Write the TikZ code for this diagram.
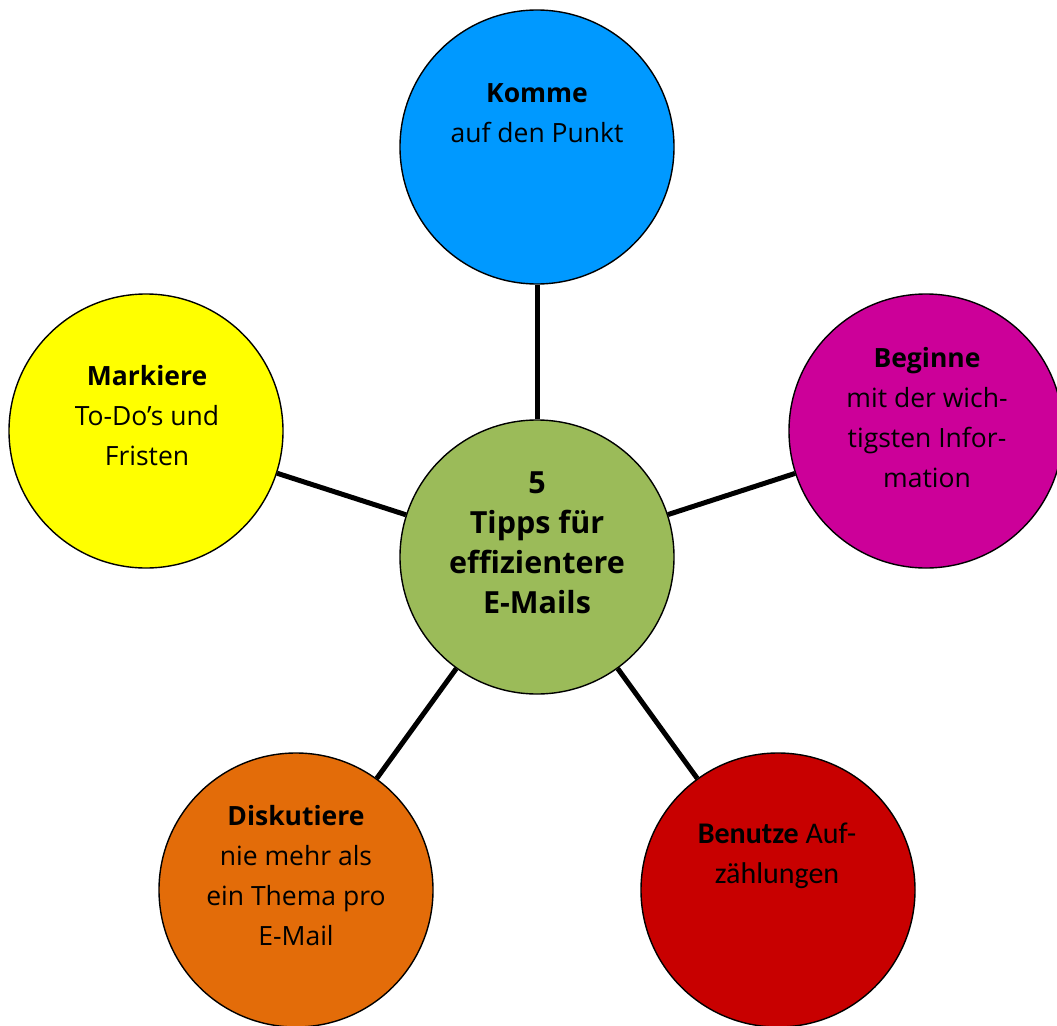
\documentclass[tikz,border=0pt]{standalone}
\usepackage{fontspec}
\setmainfont{Open Sans}
\newfontfamily\calib{Carlito}
\definecolor{cblue}{HTML}{0099FF}
\definecolor{cgreen}{HTML}{9BBB59}
\definecolor{cmag}{HTML}{CC0099}
\definecolor{cyel}{HTML}{FFFF00}
\definecolor{corange}{HTML}{E36C09}
\definecolor{cred}{HTML}{C80000}
\begin{document}
\begin{tikzpicture}[x=1pt,y=-1pt,
  bubble/.style={circle,draw=black,line width=1.4pt,minimum size=274pt,inner sep=0pt},
  conn/.style={line width=5pt,black},
  txt/.style={align=center,anchor=base,font=\fontsize{26.5}{40}\selectfont},
  ctxt/.style={align=center,anchor=base,font=\fontsize{30.5}{40}\selectfont\bfseries}]
\useasboundingbox (0,0) rectangle (1057,1025);
\node[bubble,fill=cgreen] (c) at (537,557) {};
\node[bubble,fill=cblue] (t) at (537,147) {};
\node[bubble,fill=cmag] (r) at (926,431) {};
\node[bubble,fill=cyel] (l) at (146,431) {};
\node[bubble,fill=corange] (bl) at (296,890) {};
\node[bubble,fill=cred] (br) at (778,890) {};
\draw[conn] (c) -- (t);
\draw[conn] (c) -- (r);
\draw[conn] (c) -- (l);
\draw[conn] (c) -- (bl);
\draw[conn] (c) -- (br);
\node[ctxt] (ct) at (537,613) {5\\Tipps für\\effizientere\\E-Mails};
\node[txt] (tt) at (537,142) {\textbf{Komme}\\auf den Punkt};
\node[txt] (rt) at (927,487) {\textbf{Beginne}\\mit der wich-\\tigsten Infor-\\mation};
\node[txt] (lt) at (147,465) {\textbf{Markiere}\\To-Do’s und\\Fristen};
\node[txt] (blt) at (296,945) {\textbf{Diskutiere}\\nie mehr als\\ein Thema pro\\E-Mail};
\node[txt,font=\calib\fontsize{30}{40}\selectfont] (brt) at (777,883) {\textbf{Benutze} Auf-\\zählungen};
\end{tikzpicture}
\end{document}
